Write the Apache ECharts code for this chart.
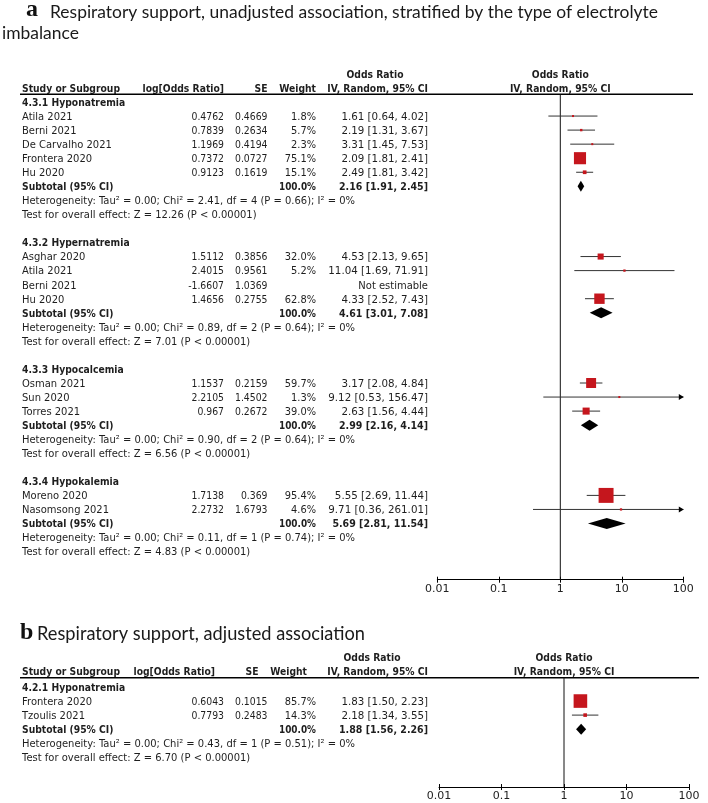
<!DOCTYPE html>
<html><head><meta charset="utf-8">
<script src="https://cdn.jsdelivr.net/npm/echarts@6/dist/echarts.min.js"></script>
<style>html,body{margin:0;padding:0;background:#fff}#c{width:708px;height:803px}</style>
</head><body><div id="c"></div>
<script>
// ================= DATA =================
// Panel a
const groupsA  = ['4.3.1 Hyponatremia', '4.3.2 Hypernatremia', '4.3.3 Hypocalcemia', '4.3.4 Hypokalemia'];
const studiesA = [
  ['Atila 2021', 'Berni 2021', 'De Carvalho 2021', 'Frontera 2020', 'Hu 2020'],
  ['Asghar 2020', 'Atila 2021', 'Berni 2021', 'Hu 2020'],
  ['Osman 2021', 'Sun 2020', 'Torres 2021'],
  ['Moreno 2020', 'Nasomsong 2021']
];
const logOrA  = [[0.4762, 0.7839, 1.1969, 0.7372, 0.9123], [1.5112, 2.4015, -1.6607, 1.4656], [1.1537, 2.2105, 0.967], [1.7138, 2.2732]];
const seA     = [[0.4669, 0.2634, 0.4194, 0.0727, 0.1619], [0.3856, 0.9561, 1.0369, 0.2755], [0.2159, 1.4502, 0.2672], [0.369, 1.6793]];
const weightA = [[1.8, 5.7, 2.3, 75.1, 15.1], [32.0, 5.2, null, 62.8], [59.7, 1.3, 39.0], [95.4, 4.6]];
const orA     = [[1.61, 2.19, 3.31, 2.09, 2.49], [4.53, 11.04, null, 4.33], [3.17, 9.12, 2.63], [5.55, 9.71]];
const loA     = [[0.64, 1.31, 1.45, 1.81, 1.81], [2.13, 1.69, null, 2.52], [2.08, 0.53, 1.56], [2.69, 0.36]];
const hiA     = [[4.02, 3.67, 7.53, 2.41, 3.42], [9.65, 71.91, null, 7.43], [4.84, 156.47, 4.44], [11.44, 261.01]];
const subOrA  = [2.16, 4.61, 2.99, 5.69];
const subLoA  = [1.91, 3.01, 2.16, 2.81];
const subHiA  = [2.45, 7.08, 4.14, 11.54];
const tau2A   = [0.00, 0.00, 0.00, 0.00];
const chi2A   = [2.41, 0.89, 0.90, 0.11];
const dfA     = [4, 2, 2, 1];
const pHetA   = [0.66, 0.64, 0.64, 0.74];
const i2A     = [0, 0, 0, 0];
const zA      = [12.26, 7.01, 6.56, 4.83];

// Panel b
const groupsB  = ['4.2.1 Hyponatremia'];
const studiesB = [['Frontera 2020', 'Tzoulis 2021']];
const logOrB   = [[0.6043, 0.7793]];
const seB      = [[0.1015, 0.2483]];
const weightB  = [[85.7, 14.3]];
const orB      = [[1.83, 2.18]];
const loB      = [[1.50, 1.34]];
const hiB      = [[2.23, 3.55]];
const subOrB   = [1.88];
const subLoB   = [1.56];
const subHiB   = [2.26];
const tau2B    = [0.00];
const chi2B    = [0.43];
const dfB      = [1];
const pHetB    = [0.51];
const i2B      = [0];
const zB       = [6.70];

// Axis ticks
const tickValues = [0.01, 0.1, 1, 10, 100];
const tickLabels = ['0.01', '0.1', '1', '10', '100'];

// Titles
const titleA1 = 'Respiratory support, unadjusted association, stratified by the type of electrolyte';
const titleA2 = 'imbalance';
const titleB  = 'Respiratory support, adjusted association';

// ================= LAYOUT / STYLE =================
const XMIN = tickValues[0], XMAX = tickValues[tickValues.length - 1];
const FAM = '"DejaVu Sans"';
const FN = '11px ' + FAM, FB = 'bold 11px ' + FAM;
const ctx = document.createElement('canvas').getContext('2d');
function textW(font, s) { ctx.font = font; return ctx.measureText(s).width; }
// horizontal condensing per text kind, fitted to widths measured on the reference
const KIND = {
  txt:  { font: FN, ref: 'Heterogeneity: Tau\u00b2 = 0.00; Chi\u00b2 = 2.41, df = 4 (P = 0.66); I\u00b2 = 0%', w: 333 },
  num:  { font: FN, ref: '0.4669', w: 32.5 },
  wt:   { font: FN, ref: '1.8%', w: 25 },
  ci:   { font: FN, ref: '1.61 [0.64, 4.02]', w: 86.6 },
  bold: { font: FB, ref: 'Study or Subgroup', w: 98 },
  bwt:  { font: FB, ref: '100.0%', w: 37 },
  bci:  { font: FB, ref: '2.16 [1.91, 2.45]', w: 89 }
};
Object.keys(KIND).forEach(k => { KIND[k].s = KIND[k].w / textW(KIND[k].font, KIND[k].ref); });

const TFA = '16.5px Lato', TFB = '18.5px Lato';
const tsA = 608 / textW(TFA, titleA1);
const tsB = 328 / textW(TFB, titleB);

const ROW = 14.05;
const A = { i0: 102, yMin: -2.5, yMax: 34, hdr: [-2, -1, -0.55], lineX: [20, 693],
  col: { study: 22, lor: 224, se: 267.5, w: 316, ci: 428 },
  hcol: { lor: 224, se: 267.5, w: 316, ci: 428, or: 375 } };
const B = { i0: 687, yMin: -2.5, yMax: 7.12, hdr: [-2.1, -1.1, -0.66], lineX: [20, 699],
  col: { study: 22, lor: 224, se: 267.5, w: 316, ci: 428 },
  hcol: { lor: 215, se: 258.5, w: 307, ci: 428, or: 372 } };
[A, B].forEach(P => { P.top = P.i0 + P.yMin * ROW; P.height = (P.yMax - P.yMin) * ROW; });

function ci(o, l, h) { return o.toFixed(2) + ' [' + l.toFixed(2) + ', ' + h.toFixed(2) + ']'; }

function buildPanel(L, d) {
  const items = [], marks = [], diamonds = [];
  const c = L.col, hc = L.hcol, h = L.hdr;
  items.push({ x: hc.or, row: h[0], s: 'Odds Ratio', k: 'bold', align: 'center' });
  items.push({ x: c.study, row: h[1], s: 'Study or Subgroup', k: 'bold', align: 'left' });
  items.push({ x: hc.lor, row: h[1], s: 'log[Odds Ratio]', k: 'bold', align: 'right' });
  items.push({ x: hc.se, row: h[1], s: 'SE', k: 'bold', align: 'right' });
  items.push({ x: hc.w, row: h[1], s: 'Weight', k: 'bold', align: 'right' });
  items.push({ x: hc.ci, row: h[1], s: 'IV, Random, 95% CI', k: 'bold', align: 'right' });
  items.push({ type: 'line', x: L.lineX[0], x2: L.lineX[1], row: h[2] });
  let r = 0;
  d.groups.forEach((g, gi) => {
    items.push({ x: c.study, row: r, s: g, k: 'bold', align: 'left' });
    r++;
    d.studies[gi].forEach((name, si) => {
      items.push({ x: c.study, row: r, s: name, k: 'txt', align: 'left' });
      items.push({ x: c.lor, row: r, s: String(d.logOr[gi][si]), k: 'num', align: 'right' });
      items.push({ x: c.se, row: r, s: String(d.se[gi][si]), k: 'num', align: 'right' });
      const w = d.weight[gi][si], o = d.or[gi][si];
      if (w != null) items.push({ x: c.w, row: r, s: w.toFixed(1) + '%', k: 'wt', align: 'right' });
      if (o == null) {
        items.push({ x: c.ci, row: r, s: 'Not estimable', k: 'txt', align: 'right' });
      } else {
        items.push({ x: c.ci, row: r, s: ci(o, d.lo[gi][si], d.hi[gi][si]), k: 'ci', align: 'right' });
        marks.push([o, d.lo[gi][si], d.hi[gi][si], r, w]);
      }
      r++;
    });
    items.push({ x: c.study, row: r, s: 'Subtotal (95% CI)', k: 'bold', align: 'left' });
    items.push({ x: c.w, row: r, s: '100.0%', k: 'bwt', align: 'right' });
    items.push({ x: c.ci, row: r, s: ci(d.subOr[gi], d.subLo[gi], d.subHi[gi]), k: 'bci', align: 'right' });
    diamonds.push([d.subOr[gi], d.subLo[gi], d.subHi[gi], r]);
    r++;
    items.push({ x: c.study, row: r, k: 'txt', align: 'left',
      s: 'Heterogeneity: Tau\u00b2 = ' + d.tau2[gi].toFixed(2) + '; Chi\u00b2 = ' + d.chi2[gi].toFixed(2) +
         ', df = ' + d.df[gi] + ' (P = ' + d.pHet[gi].toFixed(2) + '); I\u00b2 = ' + d.i2[gi] + '%' });
    r++;
    items.push({ x: c.study, row: r, k: 'txt', align: 'left',
      s: 'Test for overall effect: Z = ' + d.z[gi].toFixed(2) + ' (P < 0.00001)' });
    r += 2;
  });
  return { items, marks, diamonds };
}

const panA = buildPanel(A, { groups: groupsA, studies: studiesA, logOr: logOrA, se: seA, weight: weightA,
  or: orA, lo: loA, hi: hiA, subOr: subOrA, subLo: subLoA, subHi: subHiA,
  tau2: tau2A, chi2: chi2A, df: dfA, pHet: pHetA, i2: i2A, z: zA });
const panB = buildPanel(B, { groups: groupsB, studies: studiesB, logOr: logOrB, se: seB, weight: weightB,
  or: orB, lo: loB, hi: hiB, subOr: subOrB, subLo: subLoB, subHi: subHiB,
  tau2: tau2B, chi2: chi2B, df: dfB, pHet: pHetB, i2: i2B, z: zB });

function txt(x, y, s, font, scale, align, fill) {
  return { type: 'text', x: x, y: y, scaleX: scale, silent: true,
    style: { text: s, font: font, fill: fill || '#1e1e1e', align: align, textAlign: align,
      verticalAlign: 'middle', textVerticalAlign: 'middle' } };
}
function ktxt(x, y, s, k, align) { return txt(x, y, s, KIND[k].font, KIND[k].s, align); }

function tableRender(items) {
  return function (params, api) {
    const it = items[params.dataIndex];
    const p = api.coord([it.x, it.row]);
    if (it.type === 'line') {
      const p2 = api.coord([it.x2, it.row]);
      return { type: 'line', silent: true, shape: { x1: p[0], y1: p[1], x2: p2[0], y2: p2[1] },
        style: { stroke: '#000', lineWidth: 1.4 } };
    }
    return ktxt(p[0], p[1] + 1, it.s, it.k, it.align);
  };
}

function refRender(L) {
  return function (params, api) {
    const cs = params.coordSys;
    const top = api.coord([1, L.hdr[2]]);
    const bottom = cs.y + cs.height;
    const h1 = api.coord([1, L.hdr[0]]), h2 = api.coord([1, L.hdr[1]]);
    return { type: 'group', children: [
      { type: 'line', silent: true, shape: { x1: top[0], y1: top[1], x2: top[0], y2: bottom },
        style: { stroke: '#111', lineWidth: 1 } },
      ktxt(h1[0], h1[1] + 1, 'Odds Ratio', 'bold', 'center'),
      ktxt(h2[0], h2[1] + 1, 'IV, Random, 95% CI', 'bold', 'center')
    ] };
  };
}

function studyRender(params, api) {
  const o = api.value(0), lo = api.value(1), hi = api.value(2), row = api.value(3), w = api.value(4);
  const pl = api.coord([Math.max(lo, XMIN), row]);
  const ph = api.coord([Math.min(hi, XMAX), row]);
  const po = api.coord([o, row]);
  const y = po[1];
  const side = Math.max(2, 1.6 + 0.14 * w);
  const ch = [
    { type: 'line', silent: true, shape: { x1: pl[0], y1: y, x2: ph[0], y2: y }, style: { stroke: '#333', lineWidth: 1 } },
    { type: 'rect', silent: true, shape: { x: po[0] - side / 2, y: y - side / 2, width: side, height: side },
      style: { fill: '#c5161d' } }
  ];
  if (hi > XMAX) ch.push({ type: 'polygon', silent: true,
    shape: { points: [[ph[0] - 4.5, y - 3], [ph[0] + 0.5, y], [ph[0] - 4.5, y + 3]] }, style: { fill: '#000' } });
  if (lo < XMIN) ch.push({ type: 'polygon', silent: true,
    shape: { points: [[pl[0] + 4.5, y - 3], [pl[0] - 0.5, y], [pl[0] + 4.5, y + 3]] }, style: { fill: '#000' } });
  return { type: 'group', children: ch };
}

function diamondRender(params, api) {
  const o = api.value(0), lo = api.value(1), hi = api.value(2), row = api.value(3);
  const pl = api.coord([lo, row]), ph = api.coord([hi, row]), po = api.coord([o, row]);
  const y = po[1], hh = 5.5;
  return { type: 'polygon', silent: true,
    shape: { points: [[pl[0], y], [po[0], y - hh], [ph[0], y], [po[0], y + hh]] }, style: { fill: '#000' } };
}

function tickFmt(v) {
  let best = 0;
  tickValues.forEach((t, i) => { if (Math.abs(Math.log10(v) - Math.log10(t)) < Math.abs(Math.log10(v) - Math.log10(tickValues[best]))) best = i; });
  return tickLabels[best];
}
function logAxis(g) {
  return { gridIndex: g, type: 'log', logBase: 10, min: XMIN, max: XMAX, position: 'bottom',
    axisLine: { show: true, onZero: false, lineStyle: { color: '#000', width: 1 } },
    axisTick: { show: true, length: 3, lineStyle: { color: '#000', width: 1 } },
    minorTick: { show: false }, splitLine: { show: false },
    axisLabel: { margin: 4, fontSize: 11, fontFamily: 'DejaVu Sans', color: '#222', formatter: tickFmt,
      showMinLabel: true, showMaxLabel: true } };
}
function logAxisInner(g) {
  return { gridIndex: g, type: 'log', logBase: 10, min: XMIN, max: XMAX, position: 'bottom',
    axisLine: { show: false, onZero: false }, axisLabel: { show: false }, splitLine: { show: false }, minorTick: { show: false },
    axisTick: { show: true, inside: true, length: 3, lineStyle: { color: '#000', width: 1 } } };
}

const gridBase = { containLabel: false, outerBoundsMode: 'none' };
const option = {
  animation: false,
  backgroundColor: '#ffffff',
  grid: [
    Object.assign({ left: 0, width: 708, top: A.top, height: A.height }, gridBase),
    Object.assign({ left: 437.3, width: 246, top: A.top, height: A.height }, gridBase),
    Object.assign({ left: 0, width: 708, top: B.top, height: B.height }, gridBase),
    Object.assign({ left: 439, width: 250, top: B.top, height: B.height }, gridBase)
  ],
  xAxis: [
    { gridIndex: 0, type: 'value', min: 0, max: 708, show: false },
    logAxis(1), logAxisInner(1),
    { gridIndex: 2, type: 'value', min: 0, max: 708, show: false },
    logAxis(3), logAxisInner(3)
  ],
  yAxis: [
    { gridIndex: 0, type: 'value', inverse: true, min: A.yMin, max: A.yMax, show: false },
    { gridIndex: 1, type: 'value', inverse: true, min: A.yMin, max: A.yMax, show: false },
    { gridIndex: 2, type: 'value', inverse: true, min: B.yMin, max: B.yMax, show: false },
    { gridIndex: 3, type: 'value', inverse: true, min: B.yMin, max: B.yMax, show: false }
  ],
  graphic: { elements: [
    txt(26, 10, 'a', 'bold 24px "Liberation Serif"', 1, 'left', '#111'),
    txt(50, 12.3, titleA1, TFA, tsA, 'left', '#1a1a1a'),
    txt(2, 33.3, titleA2, TFA, tsA, 'left', '#1a1a1a'),
    txt(20, 632.5, 'b', 'bold 24px "Liberation Serif"', 1, 'left', '#111'),
    txt(37, 634, titleB, TFB, tsB, 'left', '#1a1a1a')
  ] },
  series: [
    { type: 'custom', xAxisIndex: 0, yAxisIndex: 0, clip: false, silent: true, renderItem: tableRender(panA.items),
      data: panA.items.map(it => [it.x, it.row]) },
    { type: 'custom', xAxisIndex: 1, yAxisIndex: 1, clip: false, silent: true, renderItem: refRender(A), data: [[1, A.hdr[2]]] },
    { type: 'custom', xAxisIndex: 1, yAxisIndex: 1, clip: false, silent: true, renderItem: studyRender,
      encode: { x: 0, y: 3 }, data: panA.marks },
    { type: 'custom', xAxisIndex: 1, yAxisIndex: 1, clip: false, silent: true, renderItem: diamondRender,
      encode: { x: 0, y: 3 }, data: panA.diamonds },
    { type: 'custom', xAxisIndex: 3, yAxisIndex: 2, clip: false, silent: true, renderItem: tableRender(panB.items),
      data: panB.items.map(it => [it.x, it.row]) },
    { type: 'custom', xAxisIndex: 4, yAxisIndex: 3, clip: false, silent: true, renderItem: refRender(B), data: [[1, B.hdr[2]]] },
    { type: 'custom', xAxisIndex: 4, yAxisIndex: 3, clip: false, silent: true, renderItem: studyRender,
      encode: { x: 0, y: 3 }, data: panB.marks },
    { type: 'custom', xAxisIndex: 4, yAxisIndex: 3, clip: false, silent: true, renderItem: diamondRender,
      encode: { x: 0, y: 3 }, data: panB.diamonds }
  ]
};
const chart = echarts.init(document.getElementById('c'), null, { renderer: 'canvas' });
chart.setOption(option);
</script></body></html>
